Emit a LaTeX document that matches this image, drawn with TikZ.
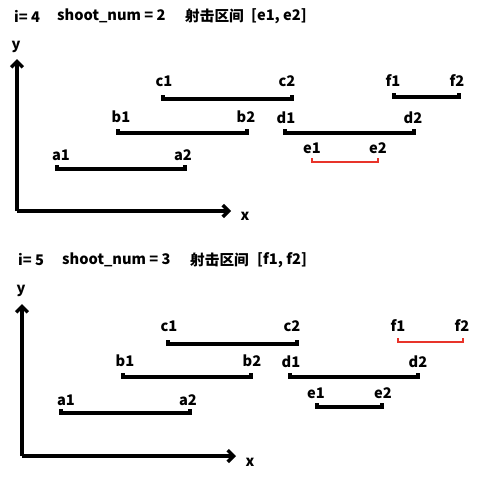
\documentclass[tikz,border=0pt]{standalone}
\usepackage{fontspec}
\setmainfont{Noto Sans CJK SC}
\usetikzlibrary{arrows.meta}
\definecolor{shotred}{RGB}{232,52,42}

\begin{document}
\begin{tikzpicture}[x=0.03cm, y=-0.03cm, font=\fontsize{12.5}{14}\selectfont\bfseries,
	seg/.style={line width=2.7pt},
	shot/.style={line width=2pt, draw=shotred},
	axis/.style={line width=3pt, -{Straight Barb[length=5pt, width=10pt]}},
	title/.style={anchor=west, inner sep=0}]
						\useasboundingbox (0,0) rectangle (483,476);
						% panel 1
						\node[title] (i1) at (14,16) {i= 4};
						\node[title] (n1) at (57,16) {shoot\_num = 2};
						\node[title] (s1) at (185,16) {射击区间};
						\node[title] (r1) at (251,16) {[e1, e2]};
						\coordinate (o1) at (17,211);
						\draw[axis] (o1) -- (17,59);
						\draw[axis] (o1) -- (231,211);
						\node (y1) at (16,47) {y};
						\node (x1) at (245,216) {x};
						\node (c11) at (164,81) {c1};
						\node (c21) at (287,81) {c2};
						\node (f11) at (393,81) {f1};
						\node (f21) at (457,81) {f2};
						\node (b11) at (121,117) {b1};
						\node (b21) at (246,117) {b2};
						\node (d11) at (286,118) {d1};
						\node (d21) at (413,118) {d2};
						\node (e11) at (312,148) {e1};
						\node (e21) at (378,148) {e2};
						\node (a11) at (61,155) {a1};
						\node (a21) at (183,155) {a2};
						\draw[seg] (163,95) -- (163,99) -- (292,99) -- (292,95);
						\draw[seg] (394,93) -- (394,97) -- (459,97) -- (459,93);
						\draw[seg] (118,129) -- (118,133) -- (247,133) -- (247,129);
						\draw[seg] (285,129) -- (285,133) -- (414,133) -- (414,129);
						\draw[shot] (312,158) -- (312,162) -- (378,162) -- (378,158);
						\draw[seg] (57,165) -- (57,169) -- (185,169) -- (185,165);
						% panel 2
						\node[title] (i2) at (18,260) {i= 5};
						\node[title] (n2) at (62,260) {shoot\_num = 3};
						\node[title] (s2) at (190,260) {射击区间};
						\node[title] (r2) at (257,260) {[f1, f2]};
						\coordinate (o2) at (22,456);
						\draw[axis] (o2) -- (22,304);
						\draw[axis] (o2) -- (236,456);
						\node (y2) at (21,291) {y};
						\node (x2) at (250,462) {x};
						\node (c12) at (169,326) {c1};
						\node (c22) at (292,326) {c2};
						\node (f12) at (398,326) {f1};
						\node (f22) at (462,326) {f2};
						\node (b12) at (125,361) {b1};
						\node (b22) at (252,361) {b2};
						\node (d12) at (291,362) {d1};
						\node (d22) at (418,362) {d2};
						\node (e12) at (316,393) {e1};
						\node (e22) at (383,393) {e2};
						\node (a12) at (66,400) {a1};
						\node (a22) at (188,400) {a2};
						\draw[seg] (168,340) -- (168,344) -- (297,344) -- (297,340);
						\draw[shot] (398,338) -- (398,342) -- (463,342) -- (463,338);
						\draw[seg] (123,373) -- (123,377) -- (251,377) -- (251,373);
						\draw[seg] (290,373) -- (290,377) -- (418,377) -- (418,373);
						\draw[seg] (317,403) -- (317,407) -- (382,407) -- (382,403);
						\draw[seg] (61,409) -- (61,413) -- (190,413) -- (190,409);
				\end{tikzpicture}
\end{document}
